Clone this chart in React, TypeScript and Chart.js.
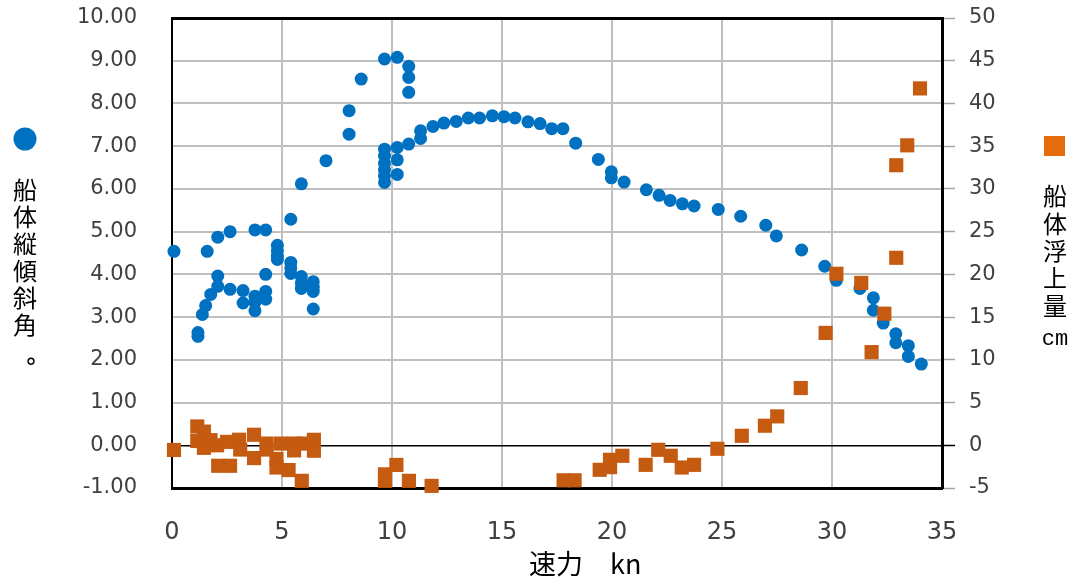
import React, { useEffect, useRef } from "react";
import { Chart, registerables } from "chart.js";

Chart.register(...registerables);

// 速力 kn / 船体縦傾斜角 °
const trimSpeed = [
  0.09, 1.18, 1.18, 1.38, 1.53, 1.6, 1.76, 2.08, 2.08, 2.08, 2.64, 2.64, 3.23, 3.23, 3.77, 3.77, 3.77, 3.77,
  4.26, 4.26, 4.26, 4.26, 4.79, 4.79, 4.79, 4.79, 5.4, 5.4, 5.4, 5.4, 5.88, 5.88, 5.88, 5.88, 6.42, 6.42, 6.42,
  6.42, 7.0, 8.05, 8.05, 8.6, 9.66, 9.66, 9.66, 9.66, 9.66, 9.66, 9.66, 10.24, 10.24, 10.24, 10.24, 10.76,
  10.76, 10.76, 10.76, 11.3, 11.3, 11.86, 12.36, 12.92, 13.47, 13.98, 14.56, 15.09, 15.59, 16.18, 16.73,
  17.26, 17.77, 18.35, 19.38, 19.97, 19.97, 20.55, 21.56, 22.14, 22.64, 23.2, 23.73, 24.83, 25.85, 26.99,
  27.47, 28.62, 29.67, 30.2, 31.27, 31.88, 31.88, 32.33, 32.9, 32.9, 33.47, 33.47, 34.06,
];
const trimAngle = [
  4.54, 2.64, 2.55, 3.06, 3.27, 4.54, 3.53, 4.87, 3.96, 3.72, 5.0, 3.65, 3.62, 3.33, 5.04, 3.49, 3.35, 3.15,
  5.04, 4.0, 3.6, 3.42, 4.68, 4.55, 4.43, 4.35, 5.29, 4.28, 4.15, 4.02, 6.12, 3.95, 3.8, 3.67, 3.83, 3.7, 3.6,
  3.19, 6.66, 7.83, 7.28, 8.57, 9.04, 6.93, 6.77, 6.6, 6.44, 6.3, 6.15, 9.08, 6.97, 6.68, 6.34, 8.87, 8.61,
  8.26, 7.05, 7.36, 7.18, 7.46, 7.54, 7.58, 7.66, 7.66, 7.71, 7.69, 7.66, 7.57, 7.53, 7.41, 7.41, 7.07, 6.69,
  6.4, 6.26, 6.16, 5.98, 5.85, 5.73, 5.65, 5.6, 5.52, 5.36, 5.15, 4.9, 4.57, 4.19, 3.86, 3.67, 3.45, 3.16,
  2.86, 2.61, 2.4, 2.33, 2.08, 1.9,
];

// 速力 kn / 船体浮上量 cm
const liftSpeed = [
  0.09, 1.15, 1.15, 1.45, 1.45, 1.75, 2.05, 2.1, 2.64, 2.5, 3.05, 3.1, 3.73, 3.73, 4.3, 4.3, 4.75, 4.75, 4.95,
  5.3, 5.55, 5.55, 5.9, 6.0, 6.45, 6.45, 9.68, 9.68, 10.2, 10.77, 11.8, 17.8, 18.3, 19.44, 19.91, 19.91, 20.47,
  21.53, 22.1, 22.67, 23.17, 23.73, 24.79, 25.9, 26.95, 27.51, 28.58, 29.71, 30.2, 31.33, 31.8, 32.38, 32.92,
  32.92, 33.42, 34.0,
];
const liftCm = [
  -0.55, 2.2, 0.5, 1.6, -0.3, 0.6, 0.0, -2.4, -2.4, 0.4, 0.65, -0.5, 1.23, -1.5, 0.2, -0.5, -1.6, -2.6, 0.2,
  -2.9, 0.2, -0.6, -4.16, 0.2, 0.64, -0.64, -4.16, -3.4, -2.3, -4.16, -4.75, -4.1, -4.1, -2.87, -2.56, -1.7,
  -1.23, -2.29, -0.53, -1.23, -2.6, -2.29, -0.41, 1.11, 2.29, 3.38, 6.7, 13.15, 20.07, 19.0, 10.9, 15.4,
  21.94, 32.77, 35.1, 41.76,
];

const xTitle = "速力　kn";
const leftTitle = ["船", "体", "縦", "傾", "斜", "角"];
const leftUnit = "°";
const rightTitle = ["船", "体", "浮", "上", "量"];
const rightUnit = "cm";

const BLUE = "#0070C0";
const ORANGE = "#C55A11";
const ORANGE_LEGEND = "#E46C0A";
const GRID = "#BFBFBF";
const TICK_COLOR = "#404040";

const AREA = { left: 172, top: 18, right: 942, bottom: 488 };

const titlesPlugin = {
  id: "sideTitles",
  afterDraw(chart: any) {
    const ctx = chart.ctx;
    ctx.save();
    ctx.fillStyle = BLUE;
    ctx.beginPath();
    ctx.arc(25, 139, 11.5, 0, Math.PI * 2);
    ctx.fill();
    ctx.fillStyle = ORANGE_LEGEND;
    ctx.fillRect(1044, 136, 21, 20);

    ctx.fillStyle = "#000";
    ctx.textAlign = "center";
    ctx.textBaseline = "middle";
    ctx.font = '24px "Noto Sans CJK JP"';
    leftTitle.forEach((c, i) => ctx.fillText(c, 25, 190 + i * 27));
    rightTitle.forEach((c, i) => ctx.fillText(c, 1055, 196 + i * 27.4));
    ctx.font = '24px "DejaVu Sans"';
    ctx.textBaseline = "alphabetic";
    ctx.fillText(leftUnit, 31, 376);
    ctx.textBaseline = "middle";
    ctx.font = '22px "Liberation Mono"';
    ctx.fillText(rightUnit, 1055, 339);
    ctx.textAlign = "left";
    ctx.font = '27px "Noto Sans CJK JP"';
    ctx.fillText(xTitle, 529, 564);
    ctx.restore();
  },
};

export default function App() {
  const ref = useRef<HTMLCanvasElement | null>(null);
  useEffect(() => {
    if (!ref.current) return;
    const chart = new Chart(ref.current, {
      type: "scatter",
      data: {
        datasets: [
          {
            label: "船体浮上量",
            data: liftSpeed.map((x, i) => ({ x, y: liftCm[i] })),
            yAxisID: "y1",
            pointStyle: "rect",
            pointRadius: 10,
            pointBorderWidth: 0,
            backgroundColor: ORANGE,
            borderColor: ORANGE,
            clip: false as any,
          },
          {
            label: "船体縦傾斜角",
            data: trimSpeed.map((x, i) => ({ x, y: trimAngle[i] })),
            yAxisID: "y",
            pointStyle: "circle",
            pointRadius: 6.5,
            pointBorderWidth: 0,
            backgroundColor: BLUE,
            borderColor: BLUE,
            clip: false as any,
          },
        ],
      },
      options: {
        animation: false,
        responsive: false,
        devicePixelRatio: 1,
        layout: { padding: { top: AREA.top, left: 0, right: 0, bottom: 0 } },
        plugins: { legend: { display: false }, tooltip: { enabled: false } },
        scales: {
          x: {
            type: "linear",
            min: 0,
            max: 35,
            ticks: {
              stepSize: 5,
              padding: 30,
              color: TICK_COLOR,
              font: { family: "DejaVu Sans", size: 24 },
            },
            grid: {
              drawTicks: false,
              color: (c: any) => (c.tick && (c.tick.value === 0 || c.tick.value === 35) ? "rgba(0,0,0,0)" : GRID),
              lineWidth: 2,
            },
            border: { display: true, color: "#000", width: 3 },
            afterFit: (s: any) => {
              s.height = 580 - AREA.bottom;
              s.paddingLeft = 0;
              s.paddingRight = 0;
            },
          },
          y: {
            type: "linear",
            position: "left",
            min: -1,
            max: 10,
            ticks: {
              stepSize: 1,
              padding: 35,
              color: TICK_COLOR,
              font: { family: "DejaVu Sans", size: 21 },
              callback: (v: any) => Number(v).toFixed(2),
            },
            grid: {
              drawTicks: false,
              color: (c: any) => (c.tick && (c.tick.value === 0 || c.tick.value === 10) ? "#000" : GRID),
              lineWidth: (c: any) => (c.tick && c.tick.value === 10 ? 3 : c.tick && c.tick.value === 0 ? 1.5 : 2),
            },
            border: { display: true, color: "#000", width: 2 },
            afterFit: (s: any) => {
              s.width = AREA.left;
              s.paddingTop = 0;
              s.paddingBottom = 0;
            },
          },
          y1: {
            type: "linear",
            position: "right",
            min: -5,
            max: 50,
            ticks: {
              stepSize: 5,
              padding: 14,
              color: TICK_COLOR,
              font: { family: "DejaVu Sans", size: 21 },
            },
            grid: {
              drawOnChartArea: false,
              drawTicks: true,
              tickLength: 13,
              tickColor: (c: any) => (c.tick && c.tick.value === 0 ? "#000" : "#A6A6A6"),
              tickWidth: 1.5,
            } as any,
            border: { display: true, color: "#000", width: 3 },
            afterFit: (s: any) => {
              s.width = 1072 - AREA.right;
              s.paddingTop = 0;
              s.paddingBottom = 0;
            },
          },
        },
      } as any,
      plugins: [titlesPlugin],
    });
    return () => chart.destroy();
  }, []);
  return (
    <div style={{ position: "fixed", left: 0, top: 0, width: 1072, height: 580, background: "#fff" }}>
      <canvas ref={ref} width={1072} height={580} style={{ display: "block" }} />
    </div>
  );
}
